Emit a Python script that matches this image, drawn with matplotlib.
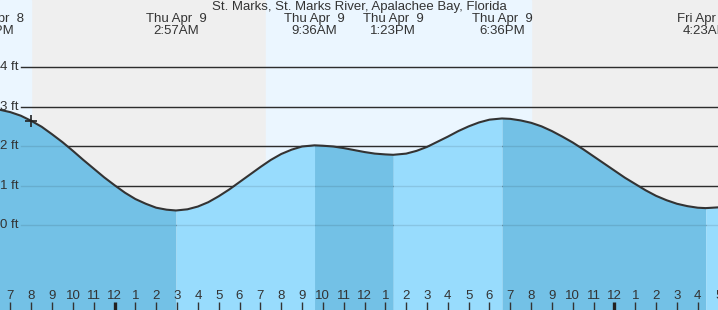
import matplotlib
matplotlib.use("Agg")
import matplotlib.pyplot as plt
import numpy as np

plt.rcParams['font.family'] = ['Liberation Sans', 'DejaVu Sans']

title = "St. Marks, St. Marks River, Apalachee Bay, Florida"

# hours from Thu Apr 9 00:00, heights in ft
hours = [-6, -5.93, -5.5, -5, -4.5, -4, -3.5, -3, -2.5, -2, -1.5, -1, -0.5,
         0, 0.5, 1, 1.5, 2, 2.5, 2.95, 3.5, 4, 4.5, 5, 5.5, 6, 6.5, 7, 7.5,
         8, 8.5, 9, 9.6, 10, 10.5, 11, 11.5, 12, 12.5, 13, 13.38, 14, 14.5,
         15, 15.5, 16, 16.5, 17, 17.5, 18, 18.6, 19, 19.5, 20, 20.5, 21,
         21.5, 22, 22.5, 23, 23.5, 24, 24.5, 25, 25.5, 26, 26.5, 27, 27.5,
         28, 28.38, 28.7, 29]
heights = [2.93, 2.93, 2.92, 2.86, 2.77, 2.64, 2.49, 2.30, 2.10, 1.88, 1.65, 1.43, 1.21,
           1.01, 0.82, 0.66, 0.54, 0.44, 0.39, 0.37, 0.40, 0.47, 0.58, 0.73, 0.90, 1.09, 1.28, 1.47, 1.65,
           1.80, 1.91, 1.99, 2.02, 2.01, 1.99, 1.95, 1.90, 1.85, 1.81, 1.79, 1.78, 1.81, 1.88,
           1.98, 2.11, 2.24, 2.38, 2.50, 2.60, 2.67, 2.70, 2.69, 2.65, 2.59, 2.50, 2.38,
           2.24, 2.09, 1.92, 1.74, 1.56, 1.38, 1.20, 1.04, 0.88, 0.74, 0.63, 0.54, 0.48,
           0.44, 0.43, 0.44, 0.45]

# high / low tide events
event_hours = [-5.93, 2.95, 9.6, 13.38, 18.6, 28.38]
event_days = ["Wed Apr  8", "Thu Apr  9", "Thu Apr  9", "Thu Apr  9", "Thu Apr  9", "Fri Apr 10"]
event_times = ["6:04PM", "2:57AM", "9:36AM", "1:23PM", "6:36PM", "4:23AM"]

# daylight spans (hours)
day_spans = [(-5.5, -4.0), (7.27, 20.0)]
y_levels = [0, 1, 2, 3, 4]

x0, x1 = -5.5, 28.97
y0, y1 = -2.15, 5.70
fs = 9.5

fig = plt.figure(figsize=(7.18, 3.10), dpi=100)
ax = fig.add_axes([0, 0, 1, 1])
ax.set_xlim(x0, x1)
ax.set_ylim(y0, y1)
ax.axis('off')

ax.axvspan(x0, x1, color='#efefef', zorder=0)
for a, b in day_spans:
    ax.axvspan(a, b, color='#ebf6ff', zorder=0.5)

for lv in y_levels:
    ax.axhline(lv, xmin=21 / 718, xmax=1, color='#333333', lw=1, zorder=1)
    ax.text(19 / 718, lv, "%d ft" % lv, transform=ax.get_yaxis_transform(),
            ha='right', va='center', fontsize=fs, color='#333333', zorder=6)

t = np.array(hours)
h = np.array(heights)
bounds = [t[0]] + event_hours[1:] + [t[-1]]
for i in range(len(bounds) - 1):
    a, b = bounds[i], bounds[i + 1]
    m = (t >= a) & (t <= b)
    falling = h[m][0] > h[m][-1]
    ax.fill_between(t[m], h[m], y0, color='#73c1e6' if falling else '#98dcfd',
                    lw=0, zorder=2)
ax.plot(t, h, color='#333333', lw=1.5, zorder=4)

for lv in y_levels:
    ax.axhline(lv, xmin=21 / 718, xmax=1, color='black', alpha=0.1, lw=1, zorder=3)

# current time marker
ax.plot([-4.0], [2.64], marker='+', color='#222222', ms=8, mew=1.2, zorder=5)

ax.text(0.5, 1 - 7 / 310, title, transform=ax.transAxes, ha='center', va='center',
        fontsize=fs, color='#333333')
for eh, d, tm in zip(event_hours, event_days, event_times):
    ax.text(eh, 1 - 19 / 310, d, transform=ax.get_xaxis_transform(), ha='center',
            va='center', fontsize=fs, color='#333333')
    ax.text(eh, 1 - 31 / 310, tm, transform=ax.get_xaxis_transform(), ha='center',
            va='center', fontsize=fs, color='#333333')

trans = ax.get_xaxis_transform()
for hr in range(-5, 30):
    hh = hr % 24
    lab = str(hh % 12 if hh % 12 else 12)
    if hh == 0:
        ax.plot([hr, hr], [0, 8 / 310], transform=trans, color='#222222', lw=2.4,
                solid_capstyle='butt', zorder=6)
    else:
        ax.plot([hr, hr], [0, 8 / 310], transform=trans, color='#333333', lw=1,
                solid_capstyle='butt', zorder=6)
    ax.text(hr, 14 / 310, lab, transform=trans, ha='center', va='center',
            fontsize=fs, color='#333333', zorder=6)

fig.savefig("out.png", dpi=100)
